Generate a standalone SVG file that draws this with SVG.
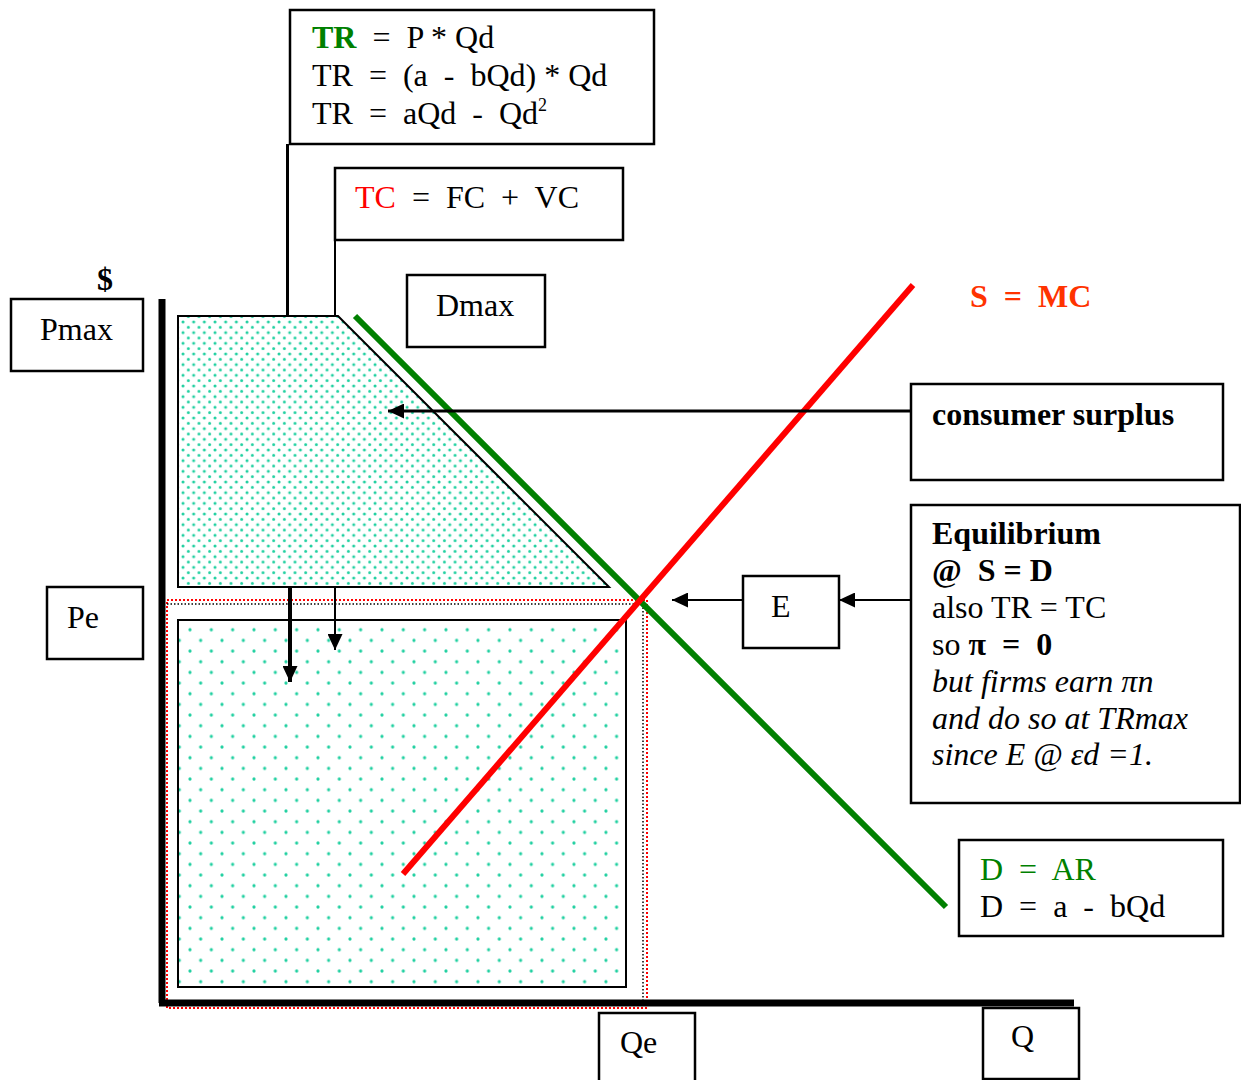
<svg xmlns="http://www.w3.org/2000/svg" width="1241" height="1080" viewBox="0 0 1241 1080">
<defs>
<style>
.box{fill:#fff;stroke:#000;stroke-width:2.5}
.t{font-family:"Liberation Serif","Times New Roman",serif;font-size:32px;fill:#000;white-space:pre}
.b{font-weight:bold}
.i{font-style:italic}
.g{fill:#008000}
.r{fill:#ff0000}
.ln{stroke:#000;fill:none}
</style>
<pattern id="dotsFine" width="10.67" height="10.67" patternUnits="userSpaceOnUse" x="181" y="320">
<rect width="10.67" height="10.67" fill="#fff"/>
<circle cx="2" cy="2" r="1.5" fill="#1fd0a0"/>
<circle cx="7.33" cy="7.33" r="1.5" fill="#1fd0a0"/>
</pattern>
<pattern id="dotsWide" width="21.33" height="21.33" patternUnits="userSpaceOnUse" x="190" y="949.7">
<rect width="21.33" height="21.33" fill="#fff"/>
<circle cx="0" cy="0" r="1.6" fill="#1fd0a0"/>
<circle cx="21.33" cy="0" r="1.6" fill="#1fd0a0"/>
<circle cx="0" cy="21.33" r="1.6" fill="#1fd0a0"/>
<circle cx="21.33" cy="21.33" r="1.6" fill="#1fd0a0"/>
<circle cx="10.67" cy="10.67" r="1.6" fill="#1fd0a0"/>
</pattern>
<marker id="ah" viewBox="0 0 10 10" refX="10" refY="5" markerWidth="16" markerHeight="15" markerUnits="userSpaceOnUse" orient="auto" preserveAspectRatio="none">
<path d="M0,0 L10,5 L0,10 z" fill="#000"/>
</marker>
</defs>
<rect width="1241" height="1080" fill="#fff"/>

<g id="areas">
<polygon id="consumer-surplus-area" points="178,316 338,316 609,587 178,587" fill="url(#dotsFine)" stroke="#000" stroke-width="2"/>
<rect id="tr-area" x="178" y="620" width="448" height="367" fill="url(#dotsWide)" stroke="#000" stroke-width="2"/>
<path d="M167,600 H647 V1008 H167 Z" fill="none" stroke="#ff0000" stroke-width="2" stroke-dasharray="2,2"/>
<path d="M167,604 H643 V1000" fill="none" stroke="#000" stroke-width="1.5" stroke-dasharray="1.5,2"/>
</g>

<g id="curves">
<line id="demand" x1="355" y1="316" x2="946" y2="907" stroke="#008000" stroke-width="6"/>
<line id="supply" x1="403" y1="874" x2="913" y2="285" stroke="#ff0000" stroke-width="6"/>
</g>

<g id="connectors">
<line class="ln" x1="162" y1="299" x2="162" y2="1003" stroke-width="7"/>
<line class="ln" x1="159" y1="1003" x2="1074" y2="1003" stroke-width="7"/>
<line class="ln" x1="287.5" y1="144" x2="287.5" y2="316" stroke-width="3"/>
<line class="ln" x1="335" y1="240" x2="335" y2="316" stroke-width="2"/>
<line class="ln" x1="911" y1="411" x2="388" y2="411" stroke-width="3" marker-end="url(#ah)"/>
<line class="ln" x1="911" y1="600" x2="839" y2="600" stroke-width="2" marker-end="url(#ah)"/>
<line class="ln" x1="743" y1="600" x2="672" y2="600" stroke-width="2" marker-end="url(#ah)"/>
<line class="ln" x1="290" y1="587" x2="290" y2="682" stroke-width="4" marker-end="url(#ah)"/>
<line class="ln" x1="335" y1="587" x2="335" y2="650" stroke-width="2" marker-end="url(#ah)"/>
</g>

<g id="tr-box">
<rect class="box" x="290" y="10" width="364" height="134"/>
<text class="t" x="312" y="48" xml:space="preserve"><tspan class="b g">TR</tspan>  =  P * Qd</text>
<text class="t" x="312" y="86" xml:space="preserve">TR  =  (a  -  bQd) * Qd</text>
<text class="t" x="312" y="124" xml:space="preserve">TR  =  aQd  -  Qd<tspan font-size="18" dy="-13">2</tspan></text>
</g>

<g id="tc-box">
<rect class="box" x="335" y="168" width="288" height="72"/>
<text class="t" x="355" y="208" xml:space="preserve"><tspan class="r">TC</tspan>  =  FC  +  VC</text>
</g>

<g id="dmax-box">
<rect class="box" x="407" y="275" width="138" height="72"/>
<text class="t" x="436" y="316">Dmax</text>
</g>

<g id="pmax-box">
<rect class="box" x="11" y="299" width="132" height="72"/>
<text class="t" x="40" y="340">Pmax</text>
</g>

<g id="dollar-label">
<text class="t b" x="97" y="290" font-size="28">$</text>
</g>

<g id="smc-label">
<text class="t b" x="970" y="307" style="fill:#ff3300" xml:space="preserve">S  =  MC</text>
</g>

<g id="cs-box">
<rect class="box" x="911" y="384" width="312" height="96"/>
<text class="t b" x="932" y="425">consumer surplus</text>
</g>

<g id="eq-box">
<rect class="box" x="911" y="505" width="329" height="298"/>
<text class="t b" x="932" y="544">Equilibrium</text>
<text class="t b" x="932" y="581" xml:space="preserve">@  S = D</text>
<text class="t" x="932" y="618">also TR = TC</text>
<text class="t" x="932" y="655" xml:space="preserve">so <tspan class="b">π  =  0</tspan></text>
<text class="t i" x="932" y="692">but firms earn πn</text>
<text class="t i" x="932" y="729">and do so at TRmax</text>
<text class="t i" x="932" y="765">since E @ εd =1.</text>
</g>

<g id="e-box">
<rect class="box" x="743" y="576" width="96" height="72"/>
<text class="t" x="771" y="617">E</text>
</g>

<g id="pe-box">
<rect class="box" x="47" y="587" width="96" height="72"/>
<text class="t" x="67" y="628">Pe</text>
</g>

<g id="dar-box">
<rect class="box" x="959" y="840" width="264" height="96"/>
<text class="t g" x="980" y="880" xml:space="preserve">D  =  AR</text>
<text class="t" x="980" y="917" xml:space="preserve">D  =  a  -  bQd</text>
</g>

<g id="qe-box">
<rect class="box" x="599" y="1013" width="96" height="72"/>
<text class="t" x="620" y="1053">Qe</text>
</g>

<g id="q-box">
<rect class="box" x="983" y="1008" width="96" height="71"/>
<text class="t" x="1011" y="1047">Q</text>
</g>
</svg>
